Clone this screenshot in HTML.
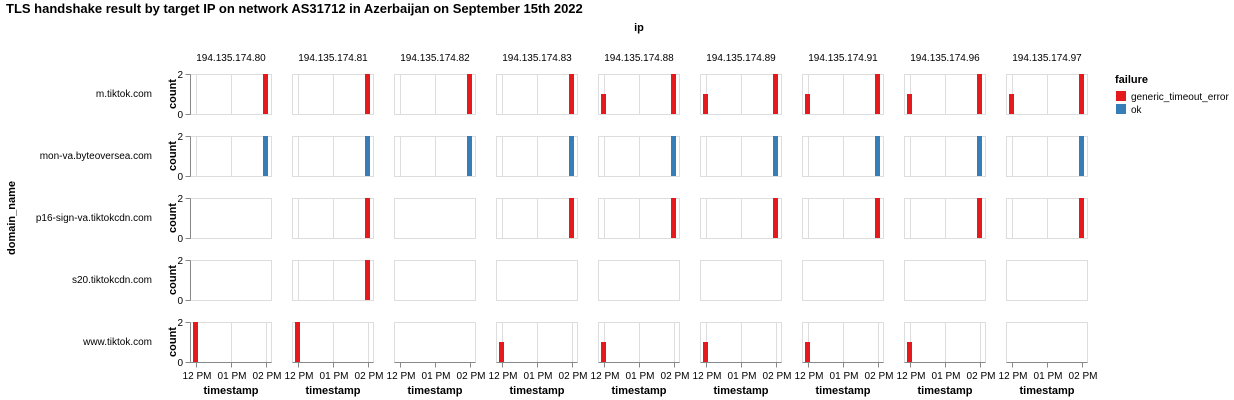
<!DOCTYPE html>
<html><head><meta charset="utf-8"><style>
body{margin:0;background:#fff;}
svg{display:block;font-family:"Liberation Sans",Arial,sans-serif;}
.t{font-size:10px;fill:#000}
.c{font-size:11px;font-weight:bold;fill:#000}
</style></head><body>
<svg width="1234" height="400" viewBox="0 0 1234 400" xmlns="http://www.w3.org/2000/svg">
<defs>
<g id="fr"><rect x="0.5" y="0.5" width="81" height="40" fill="#fff" stroke="#ddd"/></g>
<g id="gr"><path d="M6.5,0V40M41.5,0V40M76.5,0V40" stroke="#ddd"/></g>
<g id="ya"><path d="M0.5,0.5V40.5M-4.5,0.5H0.5M-4.5,40.5H0.5" stroke="#888" fill="none"/></g>
<g id="xa"><path d="M0.5,40.5H81.5M6.5,40.5V45.5M41.5,40.5V45.5M76.5,40.5V45.5" stroke="#888" fill="none"/></g>
<rect id="R2e" x="73" y="0" width="5" height="40" fill="#e41a1c"/>
<rect id="B2e" x="73" y="0" width="5" height="40" fill="#377eb8"/>
<rect id="R1s" x="3" y="20" width="5" height="20" fill="#e41a1c"/>
<rect id="R2s" x="3" y="0" width="5" height="40" fill="#e41a1c"/>
</defs>
<text x="6" y="13" style="font-size:13px;font-weight:bold">TLS handshake result by target IP on network AS31712 in Azerbaijan on September 15th 2022</text>
<text x="639" y="31" text-anchor="middle" class="c">ip</text>
<text transform="translate(15,218) rotate(-90)" text-anchor="middle" class="c">domain_name</text>
<g class="t" text-anchor="middle">
<text x="231" y="61">194.135.174.80</text><text x="333" y="61">194.135.174.81</text><text x="435" y="61">194.135.174.82</text>
<text x="537" y="61">194.135.174.83</text><text x="639" y="61">194.135.174.88</text><text x="741" y="61">194.135.174.89</text>
<text x="843" y="61">194.135.174.91</text><text x="945" y="61">194.135.174.96</text><text x="1047" y="61">194.135.174.97</text>
</g>
<g class="t" text-anchor="end">
<text x="152" y="97">m.tiktok.com</text><text x="152" y="159">mon-va.byteoversea.com</text>
<text x="152" y="221">p16-sign-va.tiktokcdn.com</text><text x="152" y="283">s20.tiktokcdn.com</text><text x="152" y="345">www.tiktok.com</text>
</g>
<g class="t" text-anchor="end">
<text x="183" y="78">2</text><text x="183" y="118">0</text>
<text x="183" y="140">2</text><text x="183" y="180">0</text>
<text x="183" y="202">2</text><text x="183" y="242">0</text>
<text x="183" y="264">2</text><text x="183" y="304">0</text>
<text x="183" y="326">2</text><text x="183" y="366">0</text>
</g>
<g class="c" text-anchor="middle">
<text transform="translate(176,94) rotate(-90)">count</text>
<text transform="translate(176,156) rotate(-90)">count</text>
<text transform="translate(176,218) rotate(-90)">count</text>
<text transform="translate(176,280) rotate(-90)">count</text>
<text transform="translate(176,342) rotate(-90)">count</text>
</g>
<!-- row 0 -->
<g transform="translate(190,74)"><use href="#fr"/><use href="#gr"/><use href="#R2e"/><use href="#ya"/></g>
<g transform="translate(292,74)"><use href="#fr"/><use href="#gr"/><use href="#R2e"/></g>
<g transform="translate(394,74)"><use href="#fr"/><use href="#gr"/><use href="#R2e"/></g>
<g transform="translate(496,74)"><use href="#fr"/><use href="#gr"/><use href="#R2e"/></g>
<g transform="translate(598,74)"><use href="#fr"/><use href="#gr"/><use href="#R2e"/><use href="#R1s"/></g>
<g transform="translate(700,74)"><use href="#fr"/><use href="#gr"/><use href="#R2e"/><use href="#R1s"/></g>
<g transform="translate(802,74)"><use href="#fr"/><use href="#gr"/><use href="#R2e"/><use href="#R1s"/></g>
<g transform="translate(904,74)"><use href="#fr"/><use href="#gr"/><use href="#R2e"/><use href="#R1s"/></g>
<g transform="translate(1006,74)"><use href="#fr"/><use href="#gr"/><use href="#R2e"/><use href="#R1s"/></g>
<!-- row 1 -->
<g transform="translate(190,136)"><use href="#fr"/><use href="#gr"/><use href="#B2e"/><use href="#ya"/></g>
<g transform="translate(292,136)"><use href="#fr"/><use href="#gr"/><use href="#B2e"/></g>
<g transform="translate(394,136)"><use href="#fr"/><use href="#gr"/><use href="#B2e"/></g>
<g transform="translate(496,136)"><use href="#fr"/><use href="#gr"/><use href="#B2e"/></g>
<g transform="translate(598,136)"><use href="#fr"/><use href="#gr"/><use href="#B2e"/></g>
<g transform="translate(700,136)"><use href="#fr"/><use href="#gr"/><use href="#B2e"/></g>
<g transform="translate(802,136)"><use href="#fr"/><use href="#gr"/><use href="#B2e"/></g>
<g transform="translate(904,136)"><use href="#fr"/><use href="#gr"/><use href="#B2e"/></g>
<g transform="translate(1006,136)"><use href="#fr"/><use href="#gr"/><use href="#B2e"/></g>
<!-- row 2 -->
<g transform="translate(190,198)"><use href="#fr"/><use href="#ya"/></g>
<g transform="translate(292,198)"><use href="#fr"/><use href="#gr"/><use href="#R2e"/></g>
<g transform="translate(394,198)"><use href="#fr"/></g>
<g transform="translate(496,198)"><use href="#fr"/><use href="#gr"/><use href="#R2e"/></g>
<g transform="translate(598,198)"><use href="#fr"/><use href="#gr"/><use href="#R2e"/></g>
<g transform="translate(700,198)"><use href="#fr"/><use href="#gr"/><use href="#R2e"/></g>
<g transform="translate(802,198)"><use href="#fr"/><use href="#gr"/><use href="#R2e"/></g>
<g transform="translate(904,198)"><use href="#fr"/><use href="#gr"/><use href="#R2e"/></g>
<g transform="translate(1006,198)"><use href="#fr"/><use href="#gr"/><use href="#R2e"/></g>
<!-- row 3 -->
<g transform="translate(190,260)"><use href="#fr"/><use href="#ya"/></g>
<g transform="translate(292,260)"><use href="#fr"/><use href="#gr"/><use href="#R2e"/></g>
<g transform="translate(394,260)"><use href="#fr"/></g>
<g transform="translate(496,260)"><use href="#fr"/></g>
<g transform="translate(598,260)"><use href="#fr"/></g>
<g transform="translate(700,260)"><use href="#fr"/></g>
<g transform="translate(802,260)"><use href="#fr"/></g>
<g transform="translate(904,260)"><use href="#fr"/></g>
<g transform="translate(1006,260)"><use href="#fr"/></g>
<!-- row 4 -->
<g transform="translate(190,322)"><use href="#fr"/><use href="#gr"/><use href="#R2s"/><use href="#ya"/><use href="#xa"/></g>
<g transform="translate(292,322)"><use href="#fr"/><use href="#gr"/><use href="#R2s"/><use href="#xa"/></g>
<g transform="translate(394,322)"><use href="#fr"/><use href="#xa"/></g>
<g transform="translate(496,322)"><use href="#fr"/><use href="#gr"/><use href="#R1s"/><use href="#xa"/></g>
<g transform="translate(598,322)"><use href="#fr"/><use href="#gr"/><use href="#R1s"/><use href="#xa"/></g>
<g transform="translate(700,322)"><use href="#fr"/><use href="#gr"/><use href="#R1s"/><use href="#xa"/></g>
<g transform="translate(802,322)"><use href="#fr"/><use href="#gr"/><use href="#R1s"/><use href="#xa"/></g>
<g transform="translate(904,322)"><use href="#fr"/><use href="#gr"/><use href="#R1s"/><use href="#xa"/></g>
<g transform="translate(1006,322)"><use href="#fr"/><use href="#xa"/></g>
<g class="t" text-anchor="middle">
<text x="197" y="379">12 PM</text><text x="232" y="379">01 PM</text><text x="267" y="379">02 PM</text>
<text x="299" y="379">12 PM</text><text x="334" y="379">01 PM</text><text x="369" y="379">02 PM</text>
<text x="401" y="379">12 PM</text><text x="436" y="379">01 PM</text><text x="471" y="379">02 PM</text>
<text x="503" y="379">12 PM</text><text x="538" y="379">01 PM</text><text x="573" y="379">02 PM</text>
<text x="605" y="379">12 PM</text><text x="640" y="379">01 PM</text><text x="675" y="379">02 PM</text>
<text x="707" y="379">12 PM</text><text x="742" y="379">01 PM</text><text x="777" y="379">02 PM</text>
<text x="809" y="379">12 PM</text><text x="844" y="379">01 PM</text><text x="879" y="379">02 PM</text>
<text x="911" y="379">12 PM</text><text x="946" y="379">01 PM</text><text x="981" y="379">02 PM</text>
<text x="1013" y="379">12 PM</text><text x="1048" y="379">01 PM</text><text x="1083" y="379">02 PM</text>
</g>
<g class="c" text-anchor="middle">
<text x="231" y="394">timestamp</text><text x="333" y="394">timestamp</text><text x="435" y="394">timestamp</text><text x="537" y="394">timestamp</text><text x="639" y="394">timestamp</text><text x="741" y="394">timestamp</text><text x="843" y="394">timestamp</text><text x="945" y="394">timestamp</text><text x="1047" y="394">timestamp</text>
</g>
<text x="1115" y="83" class="c">failure</text>
<rect x="1116" y="91" width="10" height="10" fill="#e41a1c"/>
<rect x="1116" y="104" width="10" height="10" fill="#377eb8"/>
<text x="1131" y="100" class="t">generic_timeout_error</text>
<text x="1131" y="113" class="t">ok</text>
</svg>
</body></html>
